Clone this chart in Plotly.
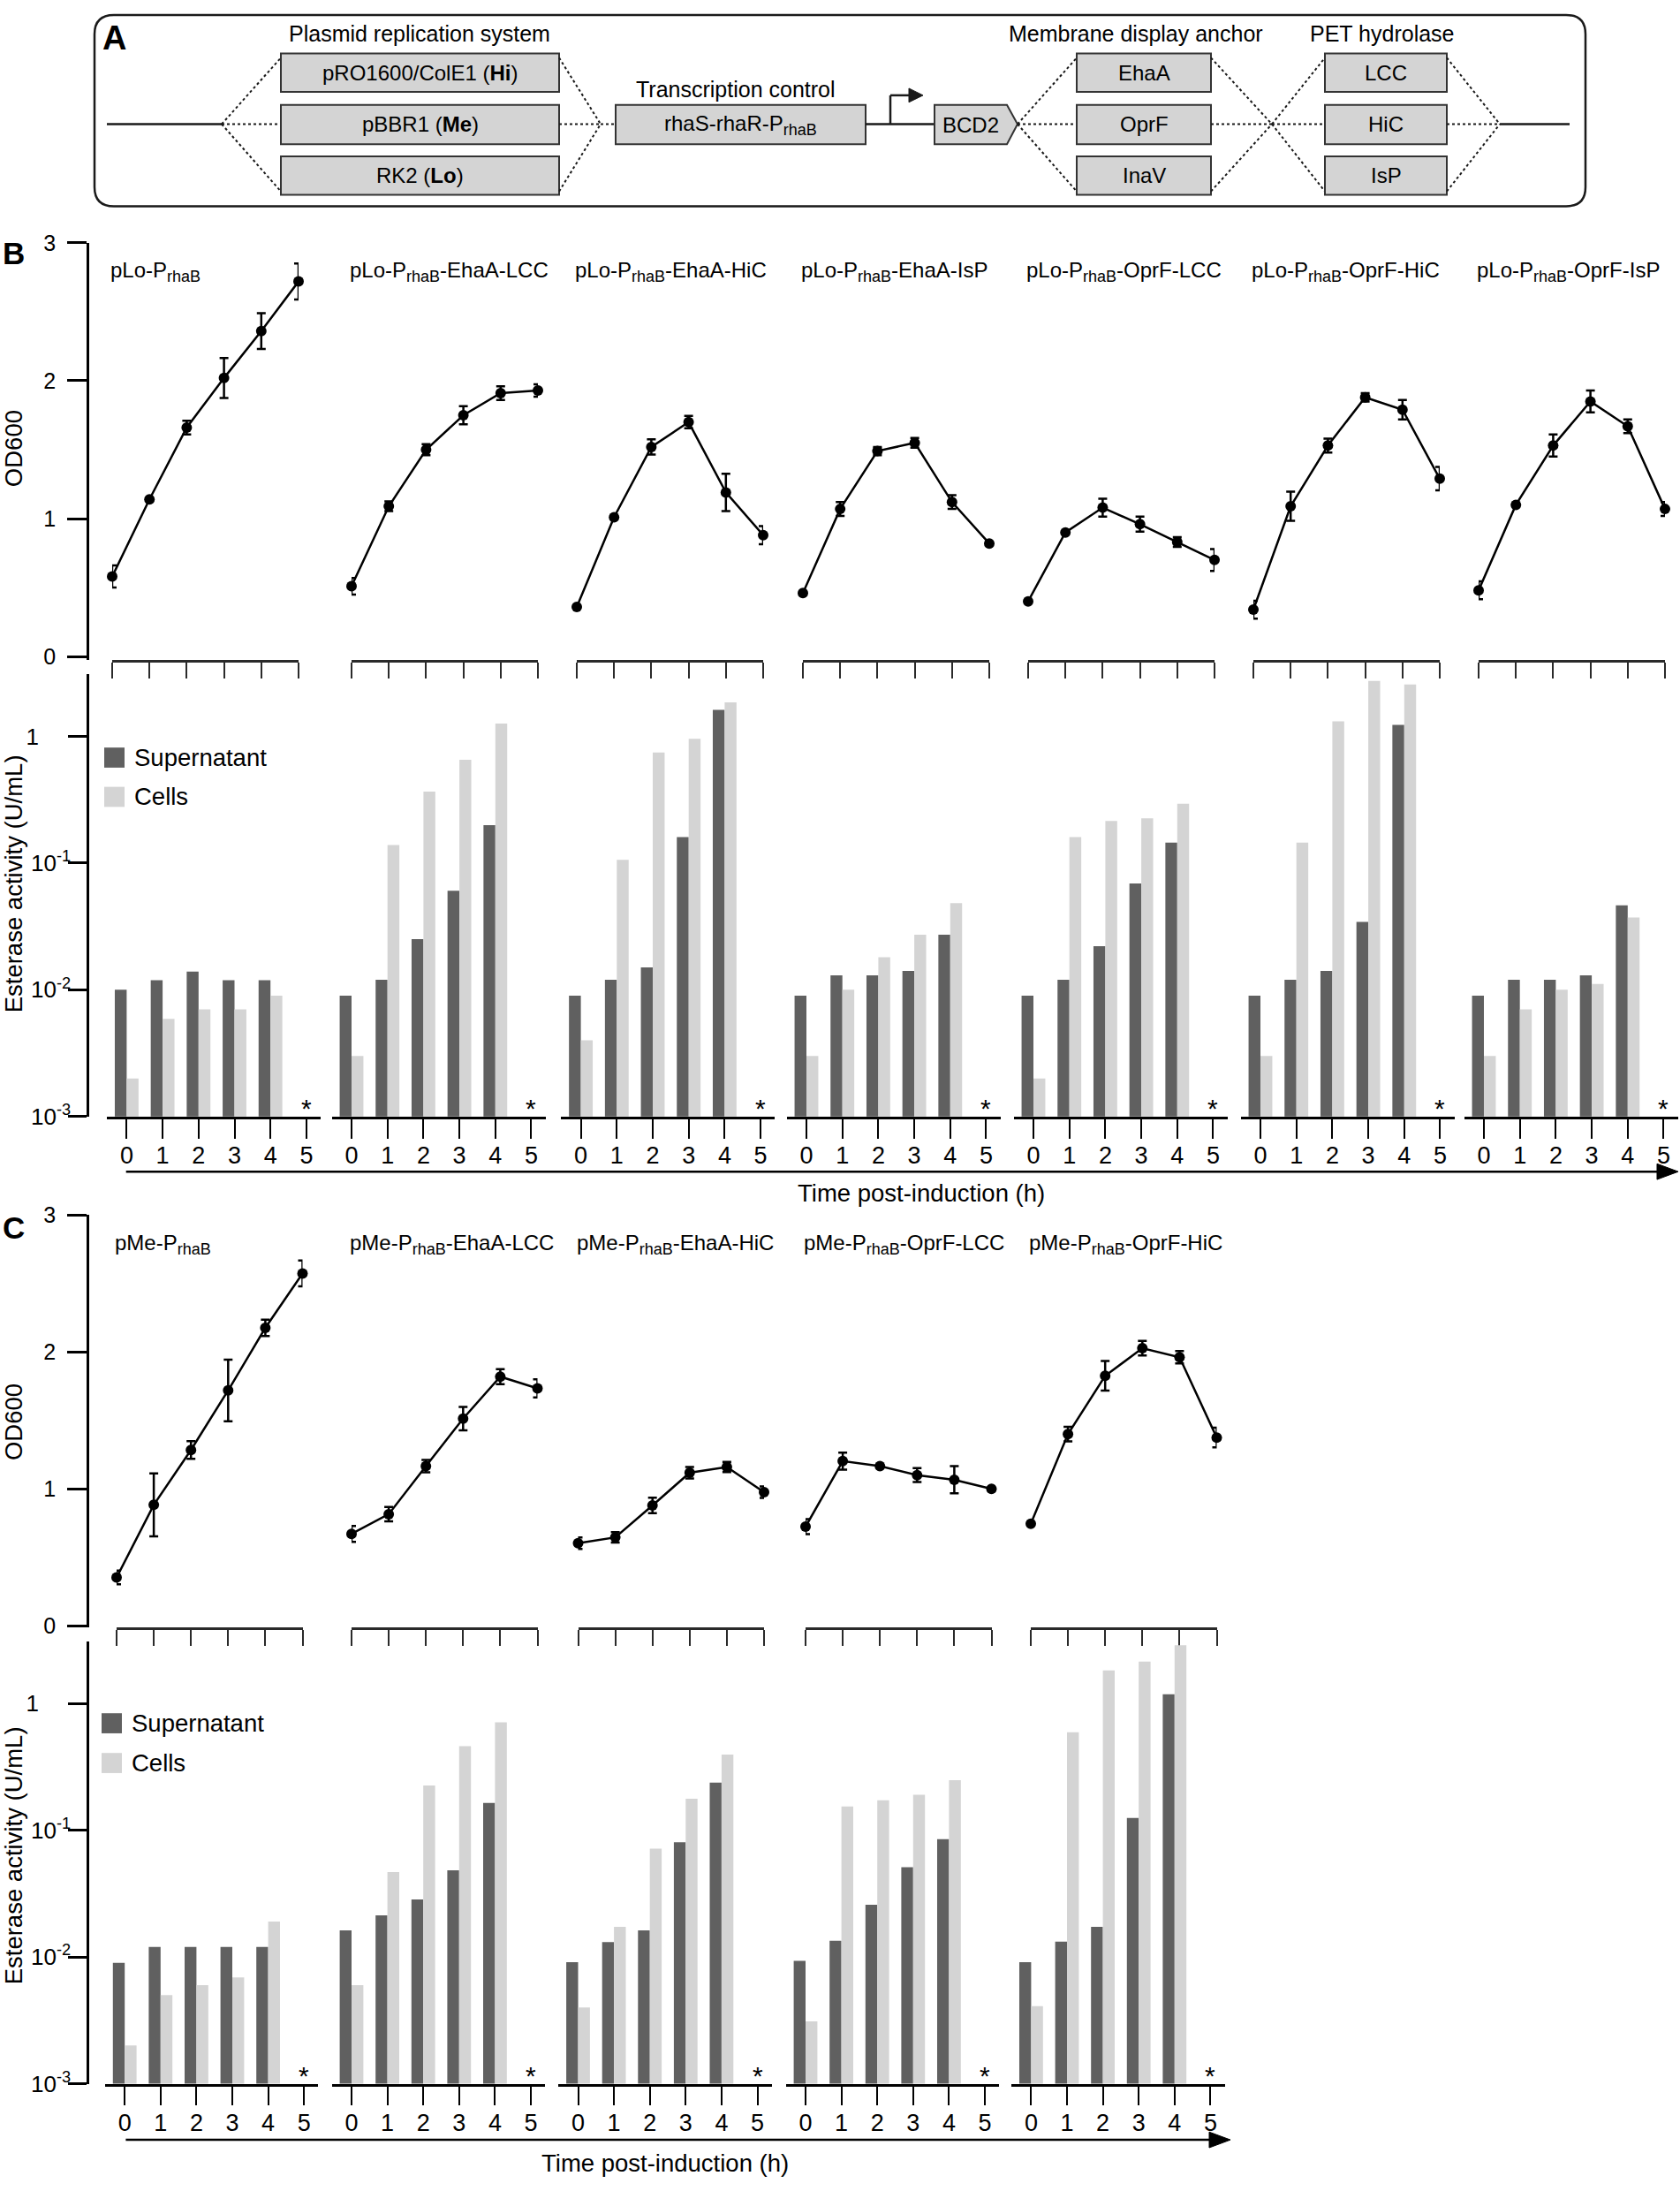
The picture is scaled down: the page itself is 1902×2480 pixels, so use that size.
import plotly.graph_objects as go

W, H = 1902, 2480
FONT = "Liberation Sans, Arial, Helvetica, sans-serif"
DARK = "#606060"
LIGHT = "#d4d4d4"
INK = "#1a1a1a"

# ---------------- data ----------------
hours = [0, 1, 2, 3, 4, 5]
hour_labels = ["0", "1", "2", "3", "4", "5"]
bar_hours = [0, 1, 2, 3, 4]
od_ticks = [0, 1, 2, 3]
act_ticks = [0.001, 0.01, 0.1, 1]
act_tick_labels = ["10<sup>-3</sup>", "10<sup>-2</sup>", "10<sup>-1</sup>", "1\u00a0\u00a0\u00a0\u00a0\u00a0"]

SUB = "<sub><span style='font-size:18px'>rhaB</span></sub>"
b_titles = ["pLo-P" + SUB, "pLo-P" + SUB + "-EhaA-LCC", "pLo-P" + SUB + "-EhaA-HiC",
            "pLo-P" + SUB + "-EhaA-IsP", "pLo-P" + SUB + "-OprF-LCC",
            "pLo-P" + SUB + "-OprF-HiC", "pLo-P" + SUB + "-OprF-IsP"]
b_od = [
    [0.58, 1.14, 1.66, 2.02, 2.36, 2.72],
    [0.51, 1.09, 1.50, 1.75, 1.91, 1.93],
    [0.36, 1.01, 1.52, 1.70, 1.19, 0.88],
    [0.46, 1.07, 1.49, 1.55, 1.12, 0.82],
    [0.40, 0.90, 1.08, 0.96, 0.83, 0.70],
    [0.34, 1.09, 1.53, 1.88, 1.79, 1.29],
    [0.48, 1.10, 1.53, 1.85, 1.67, 1.07],
]
b_od_err = [
    [0.08, 0.0, 0.05, 0.145, 0.13, 0.13],
    [0.06, 0.035, 0.04, 0.065, 0.05, 0.045],
    [0.0, 0.0, 0.055, 0.045, 0.135, 0.065],
    [0.0, 0.05, 0.03, 0.035, 0.05, 0.0],
    [0.0, 0.0, 0.065, 0.055, 0.035, 0.08],
    [0.065, 0.105, 0.05, 0.03, 0.07, 0.085],
    [0.065, 0.0, 0.08, 0.08, 0.05, 0.05],
]
b_supernatant = [
    [0.0100, 0.0119, 0.0139, 0.0119, 0.0119],
    [0.0090, 0.0120, 0.0251, 0.0604, 0.199],
    [0.0090, 0.0120, 0.0150, 0.160, 1.62],
    [0.0090, 0.0130, 0.0130, 0.0141, 0.0272],
    [0.0090, 0.0120, 0.0221, 0.0689, 0.145],
    [0.0090, 0.0120, 0.0141, 0.0344, 1.23],
    [0.0090, 0.0120, 0.0120, 0.0130, 0.0464],
]
b_cells = [
    [0.0020, 0.0059, 0.0070, 0.0070, 0.0090],
    [0.0030, 0.139, 0.367, 0.653, 1.26],
    [0.0040, 0.106, 0.745, 0.957, 1.85],
    [0.0030, 0.0100, 0.0181, 0.0272, 0.0482],
    [0.0020, 0.160, 0.215, 0.225, 0.294],
    [0.0030, 0.145, 1.31, 2.73, 2.56],
    [0.0030, 0.0070, 0.0100, 0.0111, 0.0372],
]

c_titles = ["pMe-P" + SUB, "pMe-P" + SUB + "-EhaA-LCC", "pMe-P" + SUB + "-EhaA-HiC",
            "pMe-P" + SUB + "-OprF-LCC", "pMe-P" + SUB + "-OprF-HiC"]
c_od = [
    [0.355, 0.885, 1.285, 1.72, 2.176, 2.573],
    [0.673, 0.817, 1.168, 1.514, 1.82, 1.735],
    [0.605, 0.648, 0.881, 1.119, 1.161, 0.977],
    [0.726, 1.204, 1.168, 1.102, 1.068, 1.002],
    [0.747, 1.401, 1.826, 2.028, 1.962, 1.376],
]
c_od_err = [
    [0.05, 0.23, 0.064, 0.225, 0.06, 0.094],
    [0.058, 0.053, 0.045, 0.085, 0.055, 0.066],
    [0.042, 0.038, 0.056, 0.042, 0.037, 0.042],
    [0.055, 0.062, 0.0, 0.051, 0.099, 0.0],
    [0.0, 0.053, 0.108, 0.053, 0.045, 0.072],
]
c_supernatant = [
    [0.0090, 0.0120, 0.0120, 0.0120, 0.0120],
    [0.0162, 0.0213, 0.0284, 0.0482, 0.164],
    [0.0091, 0.0131, 0.0162, 0.0802, 0.237],
    [0.0093, 0.0134, 0.0258, 0.0511, 0.0849],
    [0.0091, 0.0132, 0.0173, 0.125, 1.18],
]
c_cells = [
    [0.0020, 0.0050, 0.0060, 0.0069, 0.0190],
    [0.0060, 0.0467, 0.225, 0.460, 0.710],
    [0.0040, 0.0173, 0.0715, 0.177, 0.395],
    [0.0031, 0.154, 0.172, 0.190, 0.248],
    [0.0041, 0.593, 1.82, 2.14, 2.88],
]

# ---------------- helpers ----------------
def px(x):
    return x / W


def py(y):
    return 1 - y / H


fig = go.Figure()
layout = dict(width=W, height=H, autosize=False, margin=dict(l=0, r=0, t=0, b=0, pad=0),
              paper_bgcolor="white", plot_bgcolor="rgba(0,0,0,0)", showlegend=False,
              font=dict(family=FONT, color="black", size=24), barmode="overlay",
              shapes=[], annotations=[])
counter = [0]


def add_axes(xdom, ydom, xcfg, ycfg):
    counter[0] += 1
    k = counter[0]
    s = "" if k == 1 else str(k)
    xcfg = dict(xcfg, domain=xdom, anchor="y" + s)
    ycfg = dict(ycfg, domain=ydom)
    if ycfg.get("anchor") != "free":
        ycfg["anchor"] = "x" + s
    layout["xaxis" + s] = xcfg
    layout["yaxis" + s] = ycfg
    return "x" + s, "y" + s


def text(t, x, y, size=24, xanchor="center", yanchor="middle", angle=0, bold=False):
    if bold:
        t = "<b>" + t + "</b>"
    layout["annotations"].append(dict(text=t, x=px(x), y=py(y), xref="paper", yref="paper",
                                      xanchor=xanchor, yanchor=yanchor, showarrow=False,
                                      textangle=angle, font=dict(size=size, family=FONT, color="black")))


def line(x0, y0, x1, y1, width=2.5, dash="solid", color=INK):
    layout["shapes"].append(dict(type="line", xref="paper", yref="paper", x0=px(x0), y0=py(y0),
                                 x1=px(x1), y1=py(y1), line=dict(color=color, width=width, dash=dash)))


def rect(x0, y0, x1, y1, fill=LIGHT, width=2, color="#333"):
    layout["shapes"].append(dict(type="rect", xref="paper", yref="paper", x0=px(x0), y0=py(y0),
                                 x1=px(x1), y1=py(y1), fillcolor=fill,
                                 line=dict(color=color, width=width)))


def path(cmds, fill=None, width=2, color="#333"):
    parts = []
    for c in cmds:
        if isinstance(c, str):
            parts.append(c)
        else:
            parts.append("%.6f,%.6f" % (px(c[0]), py(c[1])))
    shp = dict(type="path", xref="paper", yref="paper", path=" ".join(parts),
               line=dict(color=color, width=width))
    if fill:
        shp["fillcolor"] = fill
    layout["shapes"].append(shp)


# ---------------- panel A (construct diagram) ----------------
ax0, ay0, ax1, ay1, r = 107, 3, 1795, 222, 22
path(["M", (ax0 + r, ay0), "L", (ax1 - r, ay0), "Q", (ax1, ay0), (ax1, ay0 + r),
      "L", (ax1, ay1 - r), "Q", (ax1, ay1), (ax1 - r, ay1), "L", (ax0 + r, ay1),
      "Q", (ax0, ay1), (ax0, ay1 - r), "L", (ax0, ay0 + r), "Q", (ax0, ay0), (ax0 + r, ay0), "Z"],
     width=2.5, color=INK)
text("A", 129, 29, size=38, bold=True)

mid = 128
rows = [(47, 91), (106, 151), (165, 209)]
fan_top, fan_bot = 52, 205

line(121, mid, 251, mid)
for yy in (fan_top, mid, fan_bot):
    line(251, mid, 318, yy, width=2, dash="dot")
col1 = ["pRO1600/ColE1 (<b>Hi</b>)", "pBBR1 (<b>Me</b>)", "RK2 (<b>Lo</b>)"]
for (t0, t1), lab in zip(rows, col1):
    rect(318, t0, 633, t1)
    text(lab, 475.5, (t0 + t1) / 2, size=24)
text("Plasmid replication system", 475, 24, size=25)
for yy in (fan_top, mid, fan_bot):
    line(633, yy, 680, mid, width=2, dash="dot")
line(680, mid, 697, mid, width=2, dash="dot")

rect(697, 106, 980, 151)
text("rhaS-rhaR-P" + SUB, 838, 129, size=24)
text("Transcription control", 833, 88, size=25)
line(980, mid, 1058, mid)
# promoter arrow
line(1008, mid, 1008, 95, width=2.5)
line(1008, 95, 1030, 95, width=2.5)
path(["M", (1029, 87), "L", (1045, 95), "L", (1029, 103), "Z"], fill=INK, width=1, color=INK)
# BCD2 pentagon
path(["M", (1058, 106), "L", (1140, 106), "L", (1152, mid), "L", (1140, 151), "L", (1058, 151), "Z"],
     fill=LIGHT, width=2)
text("BCD2", 1099, 129, size=24)
for yy in (fan_top, mid, fan_bot):
    line(1152, mid, 1219, yy, width=2, dash="dot")
col3 = ["EhaA", "OprF", "InaV"]
for (t0, t1), lab in zip(rows, col3):
    rect(1219, t0, 1371, t1)
    text(lab, 1295, (t0 + t1) / 2, size=24)
text("Membrane display anchor", 1286, 24, size=25)
for yy in (fan_top, mid, fan_bot):
    line(1371, yy, 1440, mid, width=2, dash="dot")
    line(1440, mid, 1500, yy, width=2, dash="dot")
col4 = ["LCC", "HiC", "IsP"]
for (t0, t1), lab in zip(rows, col4):
    rect(1500, t0, 1638, t1)
    text(lab, 1569, (t0 + t1) / 2, size=24)
text("PET hydrolase", 1565, 24, size=25)
for yy in (fan_top, mid, fan_bot):
    line(1638, yy, 1698, mid, width=2, dash="dot")
line(1698, mid, 1777, mid)


# ---------------- growth + activity rows ----------------
def od_row(titles, means, errs, x0s, span, ybot, ytop, yrange, title_y):
    for i, (tt, m, e, x0) in enumerate(zip(titles, means, errs, x0s)):
        xcfg = dict(range=[0, 5], showline=True, linecolor="#2a2a2a", linewidth=3, ticks="outside",
                    ticklen=18, tickwidth=2, tickcolor="#2a2a2a", tickvals=hours,
                    showticklabels=False, showgrid=False, zeroline=False, fixedrange=True)
        if i == 0:
            ycfg = dict(range=yrange, anchor="free", position=px(99), side="left", showline=True,
                        linecolor="black", linewidth=2.5, ticks="outside", ticklen=22, tickwidth=2.5,
                        tickcolor="black", tickvals=od_ticks, tickfont=dict(size=25),
                        ticklabelstandoff=8, showgrid=False, zeroline=False, fixedrange=True)
        else:
            ycfg = dict(range=yrange, visible=False, fixedrange=True)
        xa, ya = add_axes([px(x0), px(x0 + span)], [py(ybot), py(ytop)], xcfg, ycfg)
        fig.add_trace(go.Scatter(x=hours, y=m, xaxis=xa, yaxis=ya, mode="lines+markers",
                                 line=dict(color="black", width=2.5),
                                 marker=dict(size=12, color="black"),
                                 error_y=dict(type="data", array=e, thickness=2.5, width=5,
                                              color="black"),
                                 cliponaxis=False, showlegend=False, hoverinfo="skip"))
        text(tt, x0 - 4, title_y, size=24, xanchor="left")


def bar_row(sups, cells, x0s, ppu, ybot, ytop, toplog):
    for i, (s, c, x0) in enumerate(zip(sups, cells, x0s)):
        xcfg = dict(range=[-0.55, 5.4], showline=True, linecolor="black", linewidth=2.5,
                    ticks="outside", ticklen=22, tickwidth=2, tickcolor="black", tickvals=hours,
                    ticktext=hour_labels, tickfont=dict(size=27), ticklabelstandoff=-4,
                    showgrid=False, zeroline=False, fixedrange=True)
        if i == 0:
            ycfg = dict(type="log", range=[-3, toplog], anchor="free", position=px(99), side="left",
                        showline=True, linecolor="black", linewidth=2.5, ticks="outside",
                        ticklen=21, tickwidth=2.5, tickcolor="black", tickvals=act_ticks,
                        ticktext=act_tick_labels, tickfont=dict(size=26), ticklabelstandoff=-8,
                        showgrid=False, zeroline=False, fixedrange=True)
        else:
            ycfg = dict(type="log", range=[-3, toplog], visible=False, fixedrange=True)
        xa, ya = add_axes([px(x0 - 0.55 * ppu), px(x0 + 5.4 * ppu)], [py(ybot), py(ytop)], xcfg, ycfg)
        fig.add_trace(go.Bar(x=bar_hours, y=s, xaxis=xa, yaxis=ya, offset=-0.33, width=0.33,
                             marker=dict(color=DARK, line=dict(width=0)), name="Supernatant",
                             showlegend=False, hoverinfo="skip"))
        fig.add_trace(go.Bar(x=bar_hours, y=c, xaxis=xa, yaxis=ya, offset=0.0, width=0.33,
                             marker=dict(color=LIGHT, line=dict(width=0)), name="Cells",
                             showlegend=False, hoverinfo="skip"))
        layout["annotations"].append(dict(text="*", x=5, y=-3, xref=xa, yref=ya, xanchor="center",
                                          yanchor="bottom", yshift=-9, showarrow=False,
                                          font=dict(size=30, family=FONT, color="black")))


def legend_block(x, y1, y2):
    rect(x, y1 - 11.5, x + 23, y1 + 11.5, fill=DARK, width=0, color=DARK)
    rect(x, y2 - 11.5, x + 23, y2 + 11.5, fill=LIGHT, width=0, color=LIGHT)
    text("Supernatant", x + 32, y1, size=27.5, xanchor="left")
    text("Cells", x + 32, y2, size=27.5, xanchor="left")


def time_arrow(x0, x1, y, tx, ty):
    line(x0, y, x1 - 20, y, width=2.5, color="black")
    path(["M", (x1 - 24, y - 9), "L", (x1, y), "L", (x1 - 24, y + 9), "Z"], fill="black", width=1,
         color="black")
    text("Time post-induction (h)", tx, ty, size=27.5)


# Panel B
text("B", 15, 276, size=35, bold=True)
od_row(b_titles, b_od, b_od_err, [127, 398, 653, 909, 1164, 1419, 1674], 211,
       742, 264, [-0.027, 3.0], 297)
bar_row(b_supernatant, b_cells, [143.4, 398, 657.6, 913, 1170, 1427, 1680], 40.7,
        1264.6, 758, 0.49)
text("OD600", 15, 500, size=27.5, angle=-90)
text("Esterase activity (U/mL)", 15, 998, size=27.5, angle=-90)
legend_block(118, 853.5, 898.5)
time_arrow(142.7, 1900, 1327.7, 1043, 1352)

# Panel C
text("C", 15, 1392, size=35, bold=True)
od_row(c_titles, c_od, c_od_err, [132, 398, 654.5, 912, 1167], 210.5,
       1850, 1377.3, [-0.011, 3.0], 1411)
bar_row(c_supernatant, c_cells, [141.2, 398, 654.5, 912, 1167.4], 40.6,
        2372.3, 1866, 0.487)
text("OD600", 15, 1615, size=27.5, angle=-90)
text("Esterase activity (U/mL)", 15, 2111, size=27.5, angle=-90)
legend_block(115, 1959.5, 2005)
time_arrow(142.4, 1393, 2436.6, 753, 2463)

fig.update_layout(layout)
fig.write_html("out.html", config={"displayModeBar": False, "staticPlot": False},
               post_script="document.body.style.margin='0px';document.body.style.padding='0px';")
